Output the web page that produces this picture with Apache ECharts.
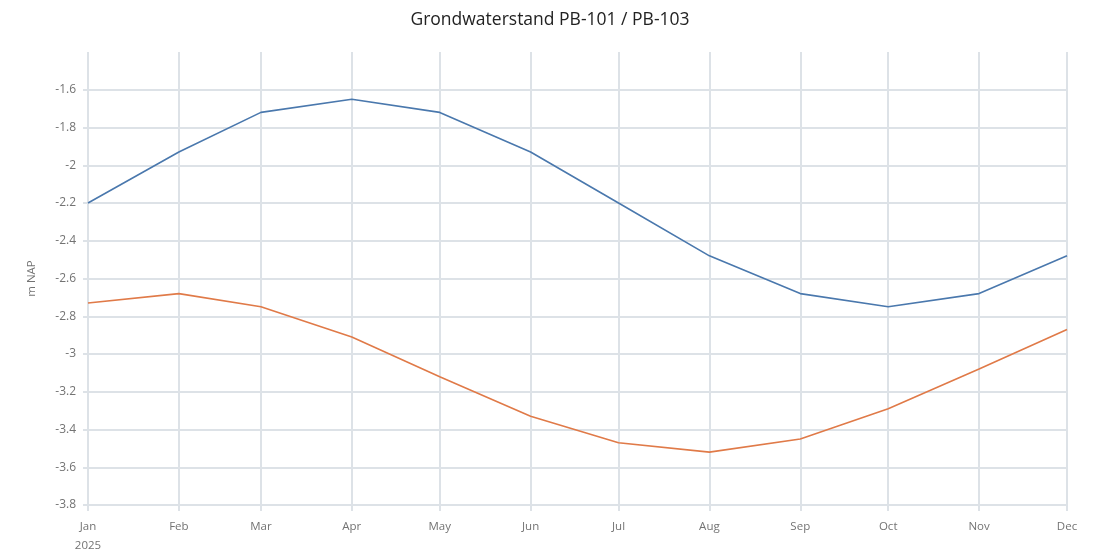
<!DOCTYPE html>
<html>
<head>
<meta charset="utf-8">
<script src="https://cdn.jsdelivr.net/npm/echarts@6/dist/echarts.min.js"></script>
<style>
  html, body { margin: 0; padding: 0; background: #fff; }
  #chart { width: 1100px; height: 553px; }
</style>
</head>
<body>
<div id="chart"></div>
<script>
// maanden (eerste dag van de maand, 2025)
var months = ['2025-01-01','2025-02-01','2025-03-01','2025-04-01','2025-05-01','2025-06-01',
              '2025-07-01','2025-08-01','2025-09-01','2025-10-01','2025-11-01','2025-12-01'];
var monthNames = ['Jan','Feb','Mar','Apr','May','Jun','Jul','Aug','Sep','Oct','Nov','Dec'];

// grondwaterstand in m NAP
var pb101 = [-2.20, -1.93, -1.72, -1.65, -1.72, -1.93, -2.20, -2.48, -2.68, -2.75, -2.68, -2.48];
var pb103 = [-2.73, -2.68, -2.75, -2.91, -3.12, -3.33, -3.47, -3.52, -3.45, -3.29, -3.08, -2.87];

function pairs(vals){
    var out = [];
    for(var i = 0; i < months.length; i++){
        out.push([months[i], vals[i]]);
    }
    return out;
}

var gridColor = '#dde2e7';
var labelColor = '#737373';
var font = 'Open Sans';

var myChart = echarts.init(document.getElementById('chart'));
var option = {
    animation: false,
    title: {
        text: 'Grondwaterstand PB-101 / PB-103',
        left: 'center',
        top: 6,
        textStyle: { fontSize: 17.5, fontWeight: 'normal', color: '#222', fontFamily: font }
    },
    grid: { left: 88, right: 33, top: 52, bottom: 48, outerBoundsMode: 'none', containLabel: false },
    xAxis: {
        type: 'time',
        min: months[0],
        max: months[months.length - 1],
        splitNumber: 12,
        minInterval: 28 * 86400000,
        maxInterval: 31 * 86400000,
        axisLine: { show: false },
        axisTick: { show: true, length: 6, lineStyle: { color: gridColor, width: 2 } },
        splitLine: { show: true, lineStyle: { color: gridColor, width: 2 } },
        axisLabel: {
            color: labelColor, fontSize: 11.5, fontFamily: font, margin: 12, lineHeight: 19,
            showMinLabel: true, showMaxLabel: true, hideOverlap: false,
            formatter: function(value){
                var d = new Date(value);
                var m = d.getMonth();
                if(m === 0) return 'Jan\n2025';
                return monthNames[m];
            }
        }
    },
    yAxis: {
        type: 'value',
        min: -3.8,
        max: -1.4,
        interval: 0.2,
        name: 'm NAP',
        nameLocation: 'middle',
        nameGap: 50,
        nameTextStyle: { color: labelColor, fontSize: 11.5, fontFamily: font },
        axisLine: { show: false },
        axisTick: { show: true, length: 5, lineStyle: { color: gridColor, width: 2 } },
        splitLine: { show: true, showMaxLine: false, lineStyle: { color: gridColor, width: 2 } },
        axisLabel: {
            color: labelColor, fontSize: 12, fontFamily: font, margin: 12,
            showMaxLabel: false,
            formatter: function(v){ return String(Math.round(v * 10) / 10); }
        }
    },
    series: [
        {
            name: 'PB-101',
            type: 'line',
            data: pairs(pb101),
            showSymbol: false,
            lineStyle: { color: '#4a78ad', width: 1.6 },
            itemStyle: { color: '#4a78ad' }
        },
        {
            name: 'PB-103',
            type: 'line',
            data: pairs(pb103),
            showSymbol: false,
            lineStyle: { color: '#e07a48', width: 1.6 },
            itemStyle: { color: '#e07a48' }
        }
    ]
};
myChart.setOption(option);
</script>
</body>
</html>
